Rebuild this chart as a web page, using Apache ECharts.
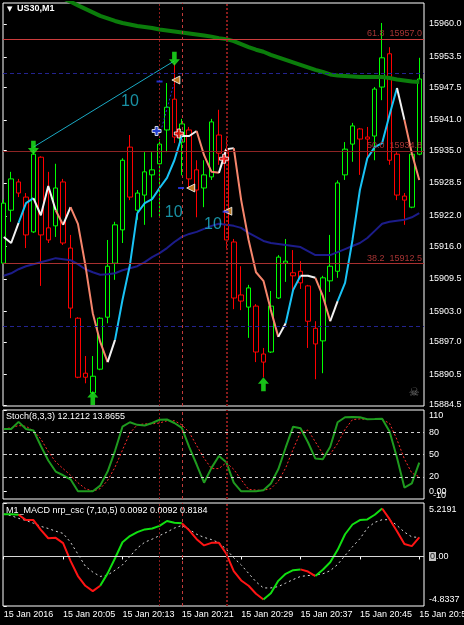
<!DOCTYPE html>
<html>
<head>
<meta charset="utf-8">
<title>US30,M1</title>
<script src="https://cdn.jsdelivr.net/npm/echarts@6/dist/echarts.min.js"></script>
<style>
  html, body { margin: 0; padding: 0; background: #000; }
  #chart { width: 464px; height: 625px; }
</style>
</head>
<body>
<div id="chart"></div>
<script>
// US30 M1, 15 Jan 2016, 57 bars from 19:57
const timeTicks = [0, 8, 16, 24, 32, 40, 48, 56];
const timeLabels = ['15 Jan 2016', '15 Jan 20:05', '15 Jan 20:13', '15 Jan 20:21',
  '15 Jan 20:29', '15 Jan 20:37', '15 Jan 20:45', '15 Jan 20:53'];

const opens = [15912.6, 15923.1, 15928.7, 15925.7, 15918.8, 15933.6, 15919.6, 15920.0, 15928.7, 15915.6,
  15901.7, 15890.8, 15886.9, 15891.6, 15901.9, 15912.6, 15919.2, 15935.6, 15923.1, 15926.1,
  15930.1, 15932.3, 15939.0, 15945.1, 15936.6, 15939.0, 15931.1, 15927.5, 15929.7, 15938.0,
  15935.0, 15916.8, 15906.3, 15903.9, 15904.1, 15894.6, 15895.0, 15905.7, 15912.6, 15910.7,
  15911.0, 15908.1, 15899.7, 15897.2, 15909.1, 15911.0, 15930.1, 15936.2, 15939.2, 15937.6,
  15937.8, 15947.5, 15954.1, 15934.2, 15925.9, 15923.7, 15934.2];
const highs = [15925.2, 15930.7, 15929.3, 15926.5, 15935.0, 15933.8, 15930.7, 15932.3, 15929.3, 15918.2,
  15901.9, 15894.2, 15894.2, 15901.9, 15917.2, 15920.8, 15933.4, 15938.0, 15927.1, 15934.6,
  15934.6, 15937.2, 15948.3, 15952.3, 15941.2, 15939.6, 15933.0, 15933.0, 15941.2, 15943.0,
  15937.6, 15917.4, 15912.0, 15908.3, 15904.5, 15895.8, 15907.1, 15914.2, 15917.4, 15915.2,
  15913.0, 15908.3, 15901.1, 15910.1, 15918.2, 15929.0, 15936.6, 15940.4, 15939.4, 15939.6,
  15947.5, 15960.2, 15955.4, 15934.6, 15926.5, 15935.0, 15953.3];
const lows = [15912.4, 15920.8, 15925.7, 15915.6, 15918.6, 15908.1, 15916.6, 15917.8, 15916.2, 15901.7,
  15889.8, 15888.8, 15886.7, 15891.4, 15900.7, 15909.3, 15916.6, 15925.1, 15921.2, 15920.2,
  15921.7, 15921.7, 15934.6, 15936.4, 15930.0, 15927.5, 15921.7, 15923.7, 15929.1, 15932.1,
  15915.2, 15903.5, 15903.3, 15897.8, 15893.0, 15890.0, 15894.8, 15905.5, 15908.9, 15907.3,
  15907.5, 15895.8, 15889.6, 15890.8, 15906.9, 15909.7, 15929.1, 15932.7, 15930.1, 15933.0,
  15933.0, 15944.9, 15932.1, 15925.1, 15920.2, 15923.5, 15934.0];
const closes = [15924.5, 15929.3, 15926.5, 15918.2, 15934.2, 15918.2, 15917.2, 15927.5, 15916.6, 15903.7,
  15890.0, 15890.0, 15890.2, 15901.7, 15912.0, 15920.2, 15933.0, 15925.7, 15926.5, 15930.7,
  15931.1, 15936.2, 15943.5, 15937.6, 15940.2, 15929.3, 15927.1, 15930.1, 15940.6, 15934.4,
  15917.2, 15905.7, 15905.1, 15907.7, 15895.0, 15893.0, 15904.1, 15913.8, 15913.0, 15910.1,
  15908.7, 15901.1, 15896.6, 15909.7, 15912.0, 15928.5, 15935.2, 15939.8, 15937.2, 15937.2,
  15947.1, 15953.3, 15933.0, 15926.1, 15925.1, 15934.2, 15949.1];

// moving averages
const maSlow = [15970.7, 15970.0, 15969.3, 15968.6, 15967.9, 15967.2, 15966.5, 15965.8, 15965.1, 15964.4,
  15963.7, 15963.0, 15962.3, 15961.6, 15961.1, 15960.6, 15960.2, 15959.9, 15959.6, 15959.4,
  15959.2, 15958.9, 15958.7, 15958.5, 15958.3, 15958.1, 15957.9, 15957.7, 15957.5, 15957.2,
  15957.0, 15956.6, 15956.0, 15955.4, 15954.9, 15954.5, 15953.9, 15953.4, 15952.9, 15952.4,
  15951.9, 15951.4, 15950.9, 15950.5, 15950.0, 15949.8, 15949.7, 15949.6, 15949.5, 15949.5,
  15949.5, 15949.5, 15949.3, 15949.0, 15948.8, 15948.6, 15948.5];
const maMid = [15910.1, 15910.6, 15911.4, 15912.0, 15912.4, 15912.8, 15913.2, 15913.6, 15913.4, 15913.2,
  15912.4, 15911.4, 15910.8, 15910.3, 15910.4, 15910.6, 15911.2, 15911.6, 15912.0, 15912.8,
  15913.8, 15914.6, 15915.6, 15916.8, 15917.8, 15918.4, 15918.8, 15919.4, 15920.0, 15920.4,
  15920.2, 15920.0, 15919.6, 15918.6, 15917.8, 15917.0, 15916.6, 15916.4, 15916.2, 15916.0,
  15915.8, 15915.0, 15914.2, 15914.2, 15914.2, 15914.8, 15915.4, 15916.0, 15916.6, 15917.6,
  15919.0, 15920.4, 15920.8, 15921.0, 15921.2, 15921.7, 15922.5];

// smoothed swing line, colour per segment: w = flat, c = up, s = down
const swingLine = [15917.8, 15916.6, 15920.6, 15924.5, 15925.5, 15922.1, 15927.9, 15923.1, 15920.2, 15923.7,
  15920.4, 15912.2, 15902.7, 15897.0, 15893.0, 15897.4, 15905.3, 15912.2, 15922.5, 15924.5,
  15925.3, 15927.5, 15929.5, 15933.0, 15937.8, 15937.8, 15938.8, 15934.0, 15930.7, 15930.5,
  15935.2, 15935.4, 15925.1, 15917.2, 15910.8, 15909.1, 15903.3, 15898.0, 15900.7, 15907.3,
  15910.1, 15910.1, 15909.7, 15906.1, 15901.1, 15905.1, 15908.7, 15917.2, 15927.1, 15933.4,
  15935.6, 15936.4, 15942.0, 15947.3, 15941.0, 15934.4, 15929.1];
const swingColor = 'wwccwwwswsssss' + 'wccccccccc' + 'wwsssww' + 'ssssss' + 'wccwwssw' + 'cccccccc' + 'wss';

const priceTicks = [15960.0, 15953.5, 15947.5, 15941.0, 15935.0, 15928.5, 15922.0,
  15916.0, 15909.5, 15903.0, 15897.0, 15890.5, 15884.5];

const fibPct = ['61.8', '50.0', '38.2'];
const fibPrice = [15957.0, 15934.75, 15912.5];
const dashLevels = [15950.3, 15900.1];
const vLines = [21, 24, 30];

// signal objects on the price chart
const arrowsDown = [[4, 15935.5], [23, 15953.1]];
const arrowsUp = [[12, 15885.9], [35, 15888.6]];
const trendPts = [[4, 15935.6], [23, 15952.7]];
const tenLabels = [[17, 15944.7], [22.9, 15922.7], [28.2, 15920.2]];
const orangeTri = [[23.2, 15948.9], [25.2, 15927.5], [30.2, 15922.9]];
const redCross = [[23.6, 15938.3], [29.7, 15933.3]];
const blueMark = [[20.6, 15938.8]];
const blueDash = [[21.0, 15948.6], [23.9, 15927.5], [29.9, 15922.8]];
const blueDotted = [[21.3, 15939.5], [22.9, 15948.0]];

// Stoch(8,3,3)
const stochK = [84.5, 84.5, 94, 84.5, 82.5, 61.5, 42, 27, 22, 16.5,
  0.4, 0.4, 0.5, 8, 27, 55, 87.5, 93.5, 90, 89.2,
  92.5, 96.8, 97.2, 92.5, 86, 60, 36.5, 12, 32, 48,
  39.5, 12, 0.4, 0.4, 0.6, 1.8, 11, 30, 59.5, 87.5,
  85.5, 66.5, 44.5, 43.6, 60.5, 93.5, 100.2, 100.5, 100.3, 97.5,
  97.7, 98.2, 81, 45.5, 5.5, 11, 39];
const stochD = [84.5, 86, 89, 88, 82, 71, 54, 40, 31, 22,
  12, 4, 0.5, 4, 15, 33, 56, 79, 90, 91.3,
  91.3, 92.5, 95.5, 95.5, 90, 80, 62, 45, 31, 31,
  39, 30, 16, 3, 2, 1.8, 4, 14, 32, 57,
  80, 83, 67, 51, 50.4, 65, 84, 97, 98, 97.2,
  97.2, 97.2, 92, 70, 44, 25, 20];
const stochLevels = [80, 50, 20];
const stochTicks = [110, 80, 50, 20, 0];
const stochMinTick = [-10];

// M1_MACD nrp_csc (7,10,5)
const macdMain = [4.13, 4.13, 4.07, 3.55, 3.55, 2.60, 1.78, 1.82, 1.30, -0.43,
  -1.91, -2.86, -3.38, -2.86, -1.65, -0.17, 1.39, 1.99, 2.38, 2.64,
  2.73, 2.99, 3.46, 3.29, 3.25, 2.55, 1.69, 1.08, 1.33, 1.33,
  0.26, -1.43, -2.34, -2.86, -3.64, -4.20, -3.59, -2.38, -1.69, -1.34,
  -1.26, -1.47, -1.91, -1.30, -0.56, 0.65, 2.17, 3.12, 3.55, 3.62,
  4.07, 4.68, 3.64, 2.47, 1.21, 1.01, 1.86];
const macdSignal = [4.13, 3.98, 3.72, 3.51, 3.25, 2.94, 2.73, 2.47, 2.25, 1.39,
  0.22, -0.95, -1.52, -1.95, -1.82, -1.34, -0.82, 0, 0.82, 1.39,
  1.69, 2.04, 2.38, 2.77, 3.03, 2.64, 2.17, 1.86, 1.65, 1.34,
  0.69, -0.13, -0.82, -1.65, -2.47, -3.07, -3.07, -2.94, -2.60, -2.25,
  -1.95, -1.86, -1.82, -1.69, -1.39, -0.78, 0.09, 0.95, 1.73, 2.77,
  3.33, 3.59, 3.59, 3.03, 2.38, 1.91, 1.86];
const macdColor = 'gg' + 'rrrrrrrrrrr' + 'ggggggggggg' + 'rrrrrrrrrrr' + 'ggggg' + 'rr' + 'ggggggggg' + 'rrrrr';
const macdTicks = [5.2191, 0, -4.8337];

const FONT = 'Liberation Sans';
const X_MIN = -0.1, X_MAX = 56.64;

function colorRuns(values, codes, palette) {
  const runs = [];
  let start = 0;
  for (let j = 1; j <= codes.length; j++) {
    if (j === codes.length || codes[j] !== codes[start]) {
      const pts = [];
      for (let k = start; k <= j; k++) pts.push([k, values[k]]);
      runs.push({ color: palette[codes[start]], data: pts });
      start = j;
    }
  }
  return runs;
}

function indexed(arr) {
  return arr.map((v, i) => [i, v]);
}

function vLineMark() {
  return {
    silent: true, symbol: 'none', label: { show: false },
    data: [
      { xAxis: vLines[0], lineStyle: { color: '#8b1c1c', type: [2, 2], width: 1 } },
      { xAxis: vLines[1], lineStyle: { color: '#c23a3a', type: [3, 3], width: 1 } },
      { xAxis: vLines[2], lineStyle: { color: '#8b1c1c', type: [2, 2], width: 2 } }
    ]
  };
}

const candles = opens.map((o, i) => [i, o, closes[i], lows[i], highs[i]]);

const upArrow = 'path://M6,0 L12,7 L8.5,7 L8.5,15 L3.5,15 L3.5,7 L0,7 Z';
const crossPath = 'path://M3,0 L6,0 L6,3 L9,3 L9,6 L6,6 L6,9 L3,9 L3,6 L0,6 L0,3 L3,3 Z';

const series = [];

// background objects of the price chart
series.push({
  type: 'line', xAxisIndex: 0, yAxisIndex: 0, data: [], z: 1, silent: true,
  markLine: {
    silent: true, symbol: 'none',
    data: fibPrice.map((p, k) => ({
      yAxis: p,
      lineStyle: { color: ['#cc3c3c', '#8e2424', '#a83030'][k], type: 'solid', width: 1 },
      label: {
        show: true, position: 'insideEndTop', distance: [2, 1],
        formatter: fibPct[k] + '  ' + p.toFixed(1),
        color: '#a83434', fontFamily: FONT, fontSize: 9
      }
    })).concat(dashLevels.map(p => ({
      yAxis: p, label: { show: false },
      lineStyle: { color: '#23238f', type: [4, 3], width: 1 }
    })))
  }
});
series.push({
  type: 'line', xAxisIndex: 0, yAxisIndex: 0, data: [], z: 1, silent: true,
  markLine: vLineMark()
});

series.push({
  type: 'candlestick', xAxisIndex: 0, yAxisIndex: 0, z: 2,
  data: candles, encode: { x: 0, y: [1, 2, 3, 4] }, barWidth: 5, barMinWidth: 5,
  itemStyle: {
    color: '#000', color0: '#000',
    borderColor: '#00ff00', borderColor0: '#ff0000', borderColorDoji: '#00ff00',
    borderWidth: 1
  }
});

series.push({
  type: 'line', xAxisIndex: 0, yAxisIndex: 0, data: indexed(maSlow), z: 3,
  showSymbol: false, silent: true, lineStyle: { color: '#0b7d0b', width: 4 }
});
series.push({
  type: 'line', xAxisIndex: 0, yAxisIndex: 0, data: indexed(maMid), z: 3,
  showSymbol: false, silent: true, lineStyle: { color: '#1c1c8a', width: 2 }
});

colorRuns(swingLine, swingColor, { w: '#f2f2f2', c: '#19c3f5', s: '#f6856c' }).forEach(run => {
  series.push({
    type: 'line', xAxisIndex: 0, yAxisIndex: 0, data: run.data, z: 4,
    showSymbol: false, silent: true, lineStyle: { color: run.color, width: 2 }
  });
});

series.push({
  type: 'line', xAxisIndex: 0, yAxisIndex: 0, data: trendPts, z: 4,
  showSymbol: false, silent: true, lineStyle: { color: '#1aa9c4', width: 1 }
});
series.push({
  type: 'line', xAxisIndex: 0, yAxisIndex: 0, data: blueDotted, z: 4,
  showSymbol: false, silent: true, lineStyle: { color: '#2a2ad0', width: 1, type: [2, 2] }
});
series.push({
  type: 'scatter', xAxisIndex: 0, yAxisIndex: 0, data: tenLabels, z: 5, symbolSize: 0, silent: true,
  label: {
    show: true, position: 'inside', formatter: '10',
    color: '#1fb4cc', fontFamily: FONT, fontSize: 16
  }
});
series.push({
  type: 'scatter', xAxisIndex: 0, yAxisIndex: 0, data: arrowsDown, z: 6, silent: true,
  symbol: upArrow, symbolRotate: 180, symbolSize: [11, 14], itemStyle: { color: '#1ef01e' }
});
series.push({
  type: 'scatter', xAxisIndex: 0, yAxisIndex: 0, data: arrowsUp, z: 6, silent: true,
  symbol: upArrow, symbolSize: [11, 14], itemStyle: { color: '#1ef01e' }
});
series.push({
  type: 'scatter', xAxisIndex: 0, yAxisIndex: 0, data: orangeTri, z: 6, silent: true,
  symbol: 'triangle', symbolRotate: 90, symbolSize: 8,
  itemStyle: { color: '#e89a2c', borderColor: '#fff', borderWidth: 1 }
});
series.push({
  type: 'scatter', xAxisIndex: 0, yAxisIndex: 0, data: redCross, z: 6, silent: true,
  symbol: crossPath, symbolSize: 9,
  itemStyle: { color: '#ff1010', borderColor: '#fff', borderWidth: 1 }
});
series.push({
  type: 'scatter', xAxisIndex: 0, yAxisIndex: 0, data: blueMark, z: 6, silent: true,
  symbol: crossPath, symbolSize: 9,
  itemStyle: { color: '#2a4cff', borderColor: '#fff', borderWidth: 1 }
});
series.push({
  type: 'scatter', xAxisIndex: 0, yAxisIndex: 0, data: blueDash, z: 6, silent: true,
  symbol: 'rect', symbolSize: [6, 2], itemStyle: { color: '#2a3cff' }
});
series.push({
  type: 'scatter', xAxisIndex: 0, yAxisIndex: 0, data: [[55.3, 15886.9]], z: 6, symbolSize: 0, silent: true,
  label: { show: true, position: 'inside', formatter: '\u2620', color: '#8a8a8a', fontSize: 12, fontFamily: 'DejaVu Sans' }
});

// stochastic
series.push({
  type: 'line', xAxisIndex: 1, yAxisIndex: 1, data: [], z: 1, silent: true,
  markLine: {
    silent: true, symbol: 'none', label: { show: false },
    lineStyle: { color: '#d0d0d0', type: [3, 3], width: 1 },
    data: stochLevels.map(v => ({ yAxis: v }))
  }
});
series.push({ type: 'line', xAxisIndex: 1, yAxisIndex: 1, data: [], z: 1, silent: true, markLine: vLineMark() });
series.push({
  type: 'line', xAxisIndex: 1, yAxisIndex: 1, data: indexed(stochD), z: 2,
  showSymbol: false, silent: true, lineStyle: { color: '#ff2a2a', width: 1, type: [2, 2] }
});
series.push({
  type: 'line', xAxisIndex: 1, yAxisIndex: 1, data: indexed(stochK), z: 3,
  showSymbol: false, silent: true, lineStyle: { color: '#1f9b1f', width: 2 }
});

// MACD
series.push({
  type: 'line', xAxisIndex: 2, yAxisIndex: 2, data: [], z: 1, silent: true,
  markLine: {
    silent: true, symbol: 'none', label: { show: false },
    lineStyle: { color: '#d8d8d8', type: 'solid', width: 1 },
    data: [{ yAxis: 0 }]
  }
});
series.push({ type: 'line', xAxisIndex: 2, yAxisIndex: 2, data: [], z: 1, silent: true, markLine: vLineMark() });
series.push({
  type: 'line', xAxisIndex: 2, yAxisIndex: 2, data: indexed(macdSignal), z: 2,
  showSymbol: false, silent: true, lineStyle: { color: '#d8d8d8', width: 1, type: [2, 3] }
});
colorRuns(macdMain, macdColor, { g: '#11e011', r: '#ff1414' }).forEach(run => {
  series.push({
    type: 'line', xAxisIndex: 2, yAxisIndex: 2, data: run.data, z: 3,
    showSymbol: false, silent: true, lineStyle: { color: run.color, width: 2 }
  });
});

const labelBase = { color: '#fff', fontFamily: FONT, fontSize: 9 };

// edge labels of the indicator windows sit inside the window, as in MT4
function edgeLabel(text, where) {
  return where === 'top' ? '{t|' + text + '}' : '{u|' + text + '}';
}
const edgeRich = (padTop, padBottom) => ({
  t: { fontFamily: FONT, fontSize: 9, color: '#fff', padding: [padTop, 0, 0, 0] },
  u: { fontFamily: FONT, fontSize: 9, color: '#fff', padding: [0, 0, padBottom, 0] },
  b: { backgroundColor: '#c4c4c4', color: '#202020', fontFamily: FONT, fontSize: 9, padding: [0, 1, 0, 1] }
});

function hiddenX(idx) {
  return { type: 'value', gridIndex: idx, min: X_MIN, max: X_MAX, show: false };
}

const gridBase = { left: 3, right: 40, show: true, borderColor: '#fff', borderWidth: 1,
  containLabel: false, outerBoundsMode: 'none' };

const option = {
  backgroundColor: '#000',
  animation: false,
  grid: [
    Object.assign({ top: 3, height: 403 }, gridBase),
    Object.assign({ top: 410, height: 89 }, gridBase),
    Object.assign({ top: 503, height: 103 }, gridBase)
  ],
  xAxis: [
    hiddenX(0),
    hiddenX(1),
    {
      type: 'value', gridIndex: 2, min: X_MIN, max: X_MAX,
      axisLine: { show: false }, splitLine: { show: false },
      axisTick: { show: true, length: 3, customValues: timeTicks, lineStyle: { color: '#fff' } },
      axisLabel: Object.assign({
        customValues: timeTicks, align: 'left', margin: 4, hideOverlap: false,
        formatter: v => timeLabels[timeTicks.indexOf(Math.round(v))] || ''
      }, labelBase)
    }
  ],
  yAxis: [
    {
      type: 'value', gridIndex: 0, position: 'right', min: 15884.3, max: 15964.16,
      axisLine: { show: false }, splitLine: { show: false },
      axisTick: { show: true, length: 3, customValues: priceTicks, lineStyle: { color: '#fff' } },
      axisLabel: Object.assign({ customValues: priceTicks, margin: 5, formatter: v => v.toFixed(1) }, labelBase)
    },
    {
      type: 'value', gridIndex: 1, position: 'right', min: -10, max: 110,
      axisLine: { show: false }, splitLine: { show: false },
      axisTick: { show: true, length: 3, customValues: stochTicks, lineStyle: { color: '#fff' } },
      axisLabel: Object.assign({
        customValues: stochTicks, margin: 5, hideOverlap: false, showMaxLabel: true,
        formatter: v => v === 110 ? edgeLabel('110', 'top') : v === 0 ? '0.00' : String(v),
        rich: edgeRich(11, 8)
      }, labelBase)
    },
    {
      type: 'value', gridIndex: 2, position: 'right', min: -4.8337, max: 5.2191,
      axisLine: { show: false }, splitLine: { show: false },
      axisTick: { show: true, length: 3, customValues: macdTicks, lineStyle: { color: '#fff' } },
      axisLabel: Object.assign({
        customValues: macdTicks, margin: 5, hideOverlap: false, showMinLabel: true, showMaxLabel: true,
        formatter: v => v === 0 ? '{b|0}.00' : v > 0 ? edgeLabel(v.toFixed(4), 'top')
          : edgeLabel(v.toFixed(4), 'bottom'),
        rich: edgeRich(14, 13)
      }, labelBase)
    },
    {
      // bottom label of the stochastic window, drawn on its own so it can overlap "0.00"
      type: 'value', gridIndex: 1, position: 'right', min: -10, max: 110,
      axisLine: { show: false }, splitLine: { show: false }, axisTick: { show: false },
      axisLabel: Object.assign({
        customValues: stochMinTick, margin: 9, showMinLabel: true,
        formatter: v => edgeLabel(String(v), 'bottom'),
        rich: edgeRich(11, 6)
      }, labelBase)
    }
  ],
  graphic: [
    { type: 'text', left: 7, top: 6, style: { text: '\u25BC', fill: '#fff', font: '7px "DejaVu Sans"' } },
    { type: 'text', left: 17, top: 4, style: { text: 'US30,M1', fill: '#fff', font: 'bold 9px "Liberation Sans"' } },
    { type: 'text', left: 6, top: 412, style: { text: 'Stoch(8,3,3) 12.1212 13.8655', fill: '#fff', font: '9px "Liberation Sans"' } },
    { type: 'text', left: 6, top: 506, style: { text: 'M1_MACD nrp_csc (7,10,5) 0.0092 0.0092 0.8184', fill: '#fff', font: '9px "Liberation Sans"' } }
  ],
  series: series
};

const chart = echarts.init(document.getElementById('chart'), null, { renderer: 'canvas' });
chart.setOption(option);
</script>
</body>
</html>
